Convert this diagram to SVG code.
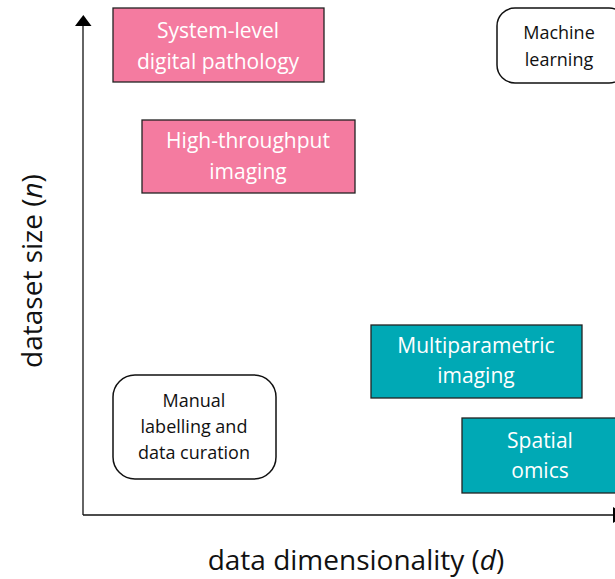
<svg xmlns="http://www.w3.org/2000/svg" width="615" height="579" viewBox="0 0 615 579">
<style>
text{font-family:"Open Sans","Noto Sans","Liberation Sans",sans-serif;text-anchor:middle}
.pink{fill:#F47BA0;stroke:#222;stroke-width:1.3}
.teal{fill:#00A9B5;stroke:#222;stroke-width:1.3}
.round{fill:#fff;stroke:#111;stroke-width:1.5}
.w{fill:#fff;font-size:21px}
.k{fill:#111;font-size:18px}
.ax{fill:#111;font-size:28px}
</style>
<g id="connectors">
<line x1="83" y1="515" x2="83" y2="22" stroke="#111" stroke-width="1.3"/>
<polygon points="75,26 91.5,26 83.3,15" fill="#000"/>
<line x1="83" y1="515" x2="613" y2="515" stroke="#111" stroke-width="1.3"/>
<polygon points="613,507 613,523 625,515" fill="#000"/>
</g>
<g id="system-level">
<rect class="pink" x="113" y="8" width="211" height="74"/>
<text class="w" x="218" y="38">System-level</text>
<text class="w" x="218" y="69">digital pathology</text>
</g>
<g id="high-throughput">
<rect class="pink" x="142" y="120" width="213" height="73"/>
<text class="w" x="248" y="148">High-throughput</text>
<text class="w" x="248" y="179">imaging</text>
</g>
<g id="multiparametric">
<rect class="teal" x="371" y="325" width="211" height="73"/>
<text class="w" x="476" y="353">Multiparametric</text>
<text class="w" x="476" y="383">imaging</text>
</g>
<g id="spatial">
<rect class="teal" x="462" y="418" width="160" height="75"/>
<text class="w" x="540" y="448">Spatial</text>
<text class="w" x="540" y="478">omics</text>
</g>
<g id="manual">
<rect class="round" x="113" y="375" width="163" height="104" rx="22"/>
<text class="k" x="194" y="407">Manual</text>
<text class="k" x="194" y="433">labelling and</text>
<text class="k" x="194" y="459">data curation</text>
</g>
<g id="machine-learning">
<rect class="round" x="497" y="8" width="130" height="75" rx="18"/>
<text class="k" x="559" y="39">Machine</text>
<text class="k" x="559" y="66">learning</text>
</g>
<text class="ax" x="356" y="570">data dimensionality (<tspan font-style="italic">d</tspan>)</text>
<text class="ax" transform="translate(42,271) rotate(-90)">dataset size (<tspan font-style="italic">n</tspan>)</text>
</svg>
